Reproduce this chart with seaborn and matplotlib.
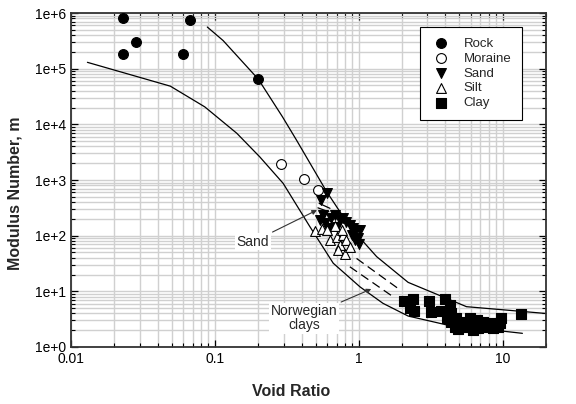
import numpy as np
import pandas as pd
import matplotlib
matplotlib.use("Agg")
import matplotlib.pyplot as plt
import matplotlib.ticker as mticker
import seaborn as sns

rock_e = [0.0231, 0.0281, 0.0231, 0.060, 0.0674, 0.199]
rock_m = [8.3e5, 3.0e5, 1.87e5, 1.8e5, 7.5e5, 6.6e4]

moraine_e = [0.288, 0.413, 0.521]
moraine_m = [1960, 1040, 667]

sand_e = [0.60, 0.55, 0.54, 0.58, 0.64, 0.68, 0.74, 0.78, 0.82, 0.87, 0.91, 0.96,
          0.99, 0.94, 0.70, 0.63, 0.89, 1.02, 0.56, 1.00]
sand_m = [575, 437, 190, 167, 204, 234, 190, 204, 178, 155, 135, 125,
          89, 83, 143, 135, 102, 125, 234, 70]

silt_e = [0.494, 0.551, 0.630, 0.700, 0.74, 0.78, 0.82, 0.72, 0.80, 0.87, 0.68, 0.60, 0.76]
silt_m = [122, 130, 83, 96, 68, 102, 83, 55, 47, 63, 148, 125, 125]

clay_e = [2.05, 2.38, 2.25, 2.41, 3.07, 3.17, 3.74, 4.0, 4.27, 4.38, 4.38, 4.77, 4.64,
          5.2, 5.5, 5.9, 6.0, 6.6, 6.7, 7.3, 7.7, 8.3, 8.5, 9.2, 9.8, 9.6, 13.3,
          4.9, 4.1, 6.2]
clay_m = [6.7, 7.3, 5.1, 4.4, 6.8, 4.2, 4.4, 7.3, 5.7, 4.0, 2.85, 3.27, 2.3,
          2.85, 2.3, 3.27, 2.48, 3.05, 2.16, 2.85, 2.3, 2.66, 2.16, 2.3, 3.27, 2.66, 3.9,
          2.1, 3.3, 2.0]

# envelope curves
upper_e = [0.0885, 0.114, 0.2, 0.295, 0.369, 0.597, 0.866, 1.33, 2.2, 4.06, 5.6, 20]
upper_m = [5.6e5, 3.2e5, 6.5e4, 1.36e4, 5.2e3, 620, 145, 42, 14.5, 7.5, 5.3, 4.0]

lower_e = [0.013, 0.049, 0.085, 0.142, 0.205, 0.298, 0.457, 0.664, 1.02, 1.47, 2.2, 4.06, 13.7]
lower_m = [1.3e5, 4.85e4, 2.06e4, 6.9e3, 2.6e3, 870, 145, 32, 12, 6.1, 3.6, 2.5, 1.76]

# norwegian clay dashed lines
nc1_e = [0.964, 1.87]
nc1_m = [39, 11.3]
nc2_e = [0.866, 1.73]
nc2_m = [27.6, 8.0]

# sand short lines
sd1_e = [0.53, 0.63]
sd1_m = [380, 310]
sd2_e = [0.52, 0.62]
sd2_m = [316, 268]

sns.set_style("ticks")
plt.rcParams['font.family'] = ['Liberation Sans', 'DejaVu Sans']

fig = plt.figure(figsize=(5.76, 4.04), dpi=100)
ax = fig.add_axes([0.1233, 0.1411, 0.8247, 0.8267])
ax.set_xscale("log")
ax.set_yscale("log")

ax.grid(True, which="both", color="#d0d0d0", linewidth=1.0)
ax.set_axisbelow(True)

# curves
sns.lineplot(x=upper_e, y=upper_m, ax=ax, color="black", linewidth=0.9, sort=False, estimator=None)
sns.lineplot(x=lower_e, y=lower_m, ax=ax, color="black", linewidth=0.9, sort=False, estimator=None)
for xe, ym in [(nc1_e, nc1_m), (nc2_e, nc2_m)]:
    ax.plot(xe, ym, color="black", linewidth=0.9, dashes=(7, 4))
for xe, ym in [(sd1_e, sd1_m), (sd2_e, sd2_m)]:
    ax.plot(xe, ym, color="black", linewidth=0.9)

groups = [
    ("Rock", rock_e, rock_m, "o", "black"),
    ("Moraine", moraine_e, moraine_m, "o", "white"),
    ("Sand", sand_e, sand_m, "v", "black"),
    ("Silt", silt_e, silt_m, "^", "white"),
    ("Clay", clay_e, clay_m, "s", "black"),
]
for name, xe, ym, mk, fc in groups:
    df = pd.DataFrame({"e": xe, "m": ym})
    sns.scatterplot(data=df, x="e", y="m", ax=ax, marker=mk, color=fc,
                    edgecolor="black", linewidth=0.8, s=50, label=name, zorder=3)

ax.set_xlim(0.01, 20)
ax.set_ylim(1, 1e6)

ax.xaxis.set_major_locator(mticker.FixedLocator([0.01, 0.1, 1, 10]))
ax.xaxis.set_major_formatter(mticker.FixedFormatter(["0.01", "0.1", "1", "10"]))
ax.yaxis.set_major_locator(mticker.LogLocator(base=10, numticks=10))
ax.yaxis.set_major_formatter(mticker.FuncFormatter(lambda v, p: "1e+%d" % round(np.log10(v))))
ax.xaxis.set_minor_locator(mticker.LogLocator(base=10, subs=np.arange(2, 10), numticks=20))
ax.yaxis.set_minor_locator(mticker.LogLocator(base=10, subs=np.arange(2, 10), numticks=20))
ax.xaxis.set_minor_formatter(mticker.NullFormatter())
ax.yaxis.set_minor_formatter(mticker.NullFormatter())

ax.tick_params(which="both", direction="in", top=True, right=True, labelsize=10, colors="black")
ax.tick_params(which="major", length=5, width=0.9)
ax.tick_params(which="minor", length=3, width=0.8)
for sp in ax.spines.values():
    sp.set_color("#333333")
    sp.set_linewidth(1.3)

ax.set_xlabel("Void Ratio", fontsize=11.5, fontweight="bold")
ax.set_ylabel("Modulus Number, m", fontsize=11.5, fontweight="bold")
ax.xaxis.set_label_coords(0.463, -0.134)
ax.xaxis.label.set_va("center")
ax.yaxis.set_label_coords(-0.118, 0.461)
ax.yaxis.label.set_va("center")

box = dict(boxstyle="square,pad=0.1", fc="white", ec="none")
arrow = dict(arrowstyle="-|>", color="#333333", lw=0.8, mutation_scale=7, shrinkA=2, shrinkB=0)
ax.annotate("Sand", xy=(0.512, 288), xytext=(0.184, 78), ha="center", va="center",
            fontsize=10, bbox=box, arrowprops=arrow)
ax.annotate("Norwegian\nclays", xy=(1.22, 11), xytext=(0.415, 3.3), ha="center", va="center",
            fontsize=10, bbox=box, arrowprops=arrow, linespacing=1.0)

leg = ax.legend(loc="upper right", bbox_to_anchor=(0.949, 0.958), borderaxespad=0,
                fontsize=9.5, frameon=True, fancybox=False, edgecolor="black", framealpha=1,
                handletextpad=0.9, labelspacing=0.2, borderpad=0.8, handlelength=1.6)
leg.get_frame().set_linewidth(0.8)

fig.savefig("out.png", dpi=100)
